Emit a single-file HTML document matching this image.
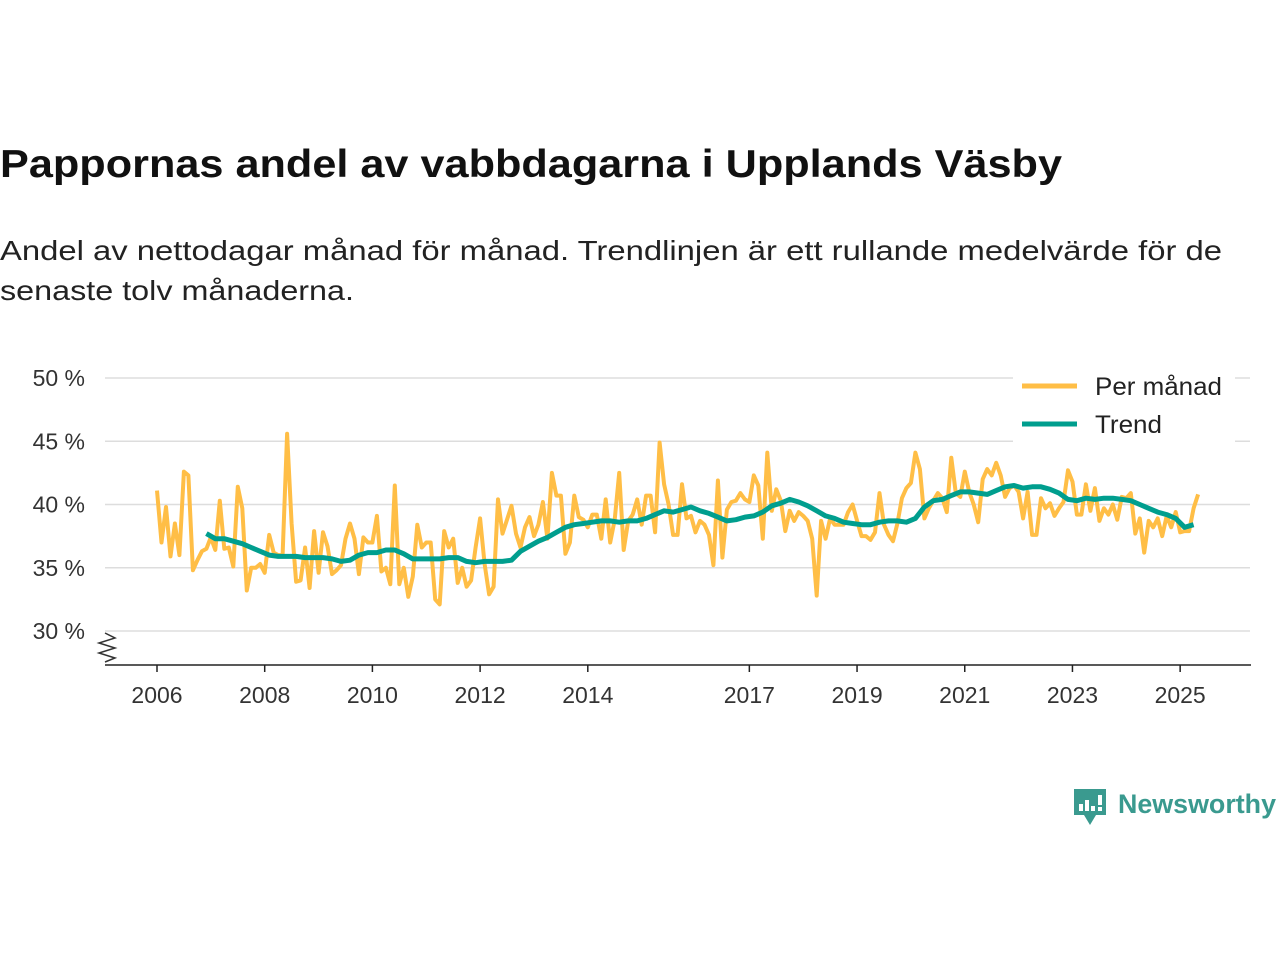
<!DOCTYPE html>
<html><head><meta charset="utf-8"><style>
body{margin:0;background:#fff;width:1280px;height:960px;overflow:hidden;font-family:"Liberation Sans",sans-serif;}
</style></head><body>
<svg width="1280" height="960" xmlns="http://www.w3.org/2000/svg">
<text x="0" y="177" font-size="39" font-weight="bold" fill="#111" textLength="1062" lengthAdjust="spacingAndGlyphs">Pappornas andel av vabbdagarna i Upplands Väsby</text>
<text x="0" y="260" font-size="28" fill="#222" textLength="1222" lengthAdjust="spacingAndGlyphs">Andel av nettodagar månad för månad. Trendlinjen är ett rullande medelvärde för de</text>
<text x="0" y="300" font-size="28" fill="#222" textLength="354" lengthAdjust="spacingAndGlyphs">senaste tolv månaderna.</text>
<g id="grid"></g><g id="xaxis"></g>
<path d="M105,633 L115,638 L99,643 L115,648 L99,653 L115,658 L105,662" fill="none" stroke="#333" stroke-width="1.5"/>
<g id="series"></g>
<g>
<rect x="1013" y="368" width="222" height="74" fill="#fff"/>
<line x1="1022" y1="386" x2="1077" y2="386" stroke="#FFBE46" stroke-width="5"/>
<text x="1095" y="395" font-size="25" fill="#222" textLength="127" lengthAdjust="spacingAndGlyphs">Per månad</text>
<line x1="1022" y1="424" x2="1077" y2="424" stroke="#009E8E" stroke-width="5"/>
<text x="1095" y="433" font-size="25" fill="#222" textLength="67" lengthAdjust="spacingAndGlyphs">Trend</text>
</g>
<g>
<path d="M1074,789 h32 v26 h-10 l-6,10 l-6,-10 h-10 z" fill="#3a9a8f"/>
<rect x="1079" y="804" width="4" height="7" fill="#fff"/><rect x="1085" y="800" width="4" height="11" fill="#fff"/><rect x="1091" y="806" width="4" height="5" fill="#fff"/><rect x="1098" y="795" width="4" height="10" fill="#fff"/><rect x="1098" y="807" width="4" height="4" fill="#fff"/>
<text x="1118" y="813" font-size="27" font-weight="bold" fill="#3a9a8f" textLength="158" lengthAdjust="spacingAndGlyphs">Newsworthy</text>
</g>
</svg>
<script>
const yTicks=[30,35,40,45,50];
const yTickLabels=["30 %","35 %","40 %","45 %","50 %"];
const xTicks=[2006,2008,2010,2012,2014,2017,2019,2021,2023,2025];
const startYear=2006;
const monthly=[41.1,37.0,39.8,35.9,38.5,36.0,42.6,42.3,34.8,35.6,36.3,36.5,37.4,36.4,40.3,36.5,36.6,35.1,41.4,39.7,33.2,35.0,35.0,35.3,34.6,37.6,36.2,36.0,36.0,45.6,38.5,33.9,34.0,36.6,33.4,37.9,34.6,37.8,36.7,34.5,34.8,35.2,37.3,38.5,37.3,34.5,37.4,37.0,37.0,39.1,34.7,35.0,33.7,41.5,
33.7,35.0,32.7,34.3,38.4,36.6,37.0,37.0,32.5,32.1,37.9,36.6,37.3,33.8,35.0,33.5,34.0,36.6,38.9,35.3,32.9,33.5,40.4,37.7,38.8,39.9,37.7,36.6,38.2,39.0,37.5,38.4,40.2,37.3,42.5,40.7,40.7,36.1,37.0,40.7,39.0,38.8,38.2,39.2,39.2,37.3,40.4,37.0,38.8,42.5,36.4,38.7,39.2,40.4,38.4,40.7,40.7,37.8,44.9,
41.6,40.0,37.6,37.6,41.6,38.9,39.1,37.8,38.7,38.4,37.6,35.2,41.9,35.8,39.6,40.2,40.3,40.9,40.4,40.2,42.3,41.5,37.3,44.1,39.5,41.2,40.3,37.9,39.5,38.7,39.4,39.1,38.7,37.3,32.8,38.7,37.3,38.9,38.4,38.4,38.4,39.4,40.0,38.7,37.5,37.5,37.2,37.8,40.9,38.4,37.6,37.1,38.5,40.5,41.3,41.7,44.1,
42.8,38.9,39.7,40.3,40.9,40.5,39.4,43.7,40.9,40.6,42.6,41.0,40.0,38.6,42.0,42.8,42.3,43.3,42.3,40.6,41.3,41.5,41.0,38.9,41.0,37.6,37.6,40.5,39.7,40.1,39.1,39.7,40.2,42.7,41.8,39.2,39.2,41.6,39.5,41.3,38.7,39.7,39.2,40.0,38.8,40.6,40.5,40.9,37.7,38.9,36.2,38.7,38.2,38.9,37.5,39.1,38.2,39.4,37.8,37.9,37.9,39.7,40.8];
const trendStartMonth=11, trendStepMonths=2;
const trend=[37.7,37.3,37.3,37.1,36.9,36.6,36.3,36.0,35.9,35.9,35.9,35.8,35.8,35.8,35.7,35.5,35.6,36.0,36.2,36.2,36.4,36.4,36.1,35.7,35.7,35.7,35.7,35.8,35.8,35.5,35.4,35.5,35.5,35.5,35.6,36.3,36.7,37.1,37.4,37.8,38.2,38.4,38.5,38.6,38.7,38.7,38.6,38.7,38.7,38.9,39.2,39.5,39.4,39.6,39.8,39.5,39.3,39.0,38.7,38.8,39.0,39.1,39.4,39.9,40.1,40.4,40.2,39.9,39.5,39.1,38.9,38.6,38.5,38.4,38.4,38.6,38.7,38.7,38.6,38.9,39.8,40.3,40.4,40.7,41.0,41.0,40.9,40.8,41.1,41.4,41.5,41.3,41.4,41.4,41.2,40.9,40.4,40.3,40.5,40.4,40.5,40.5,40.4,40.3,40.0,39.7,39.4,39.2,38.9,38.2,38.4];

const NS="http://www.w3.org/2000/svg";
const X=yr=>157+(yr-2006)*53.85;
const XM=m=>X(startYear+m/12);
const Y=v=>378+(50-v)*12.65;
function mk(tag,attrs,parent){const e=document.createElementNS(NS,tag);for(const k in attrs)e.setAttribute(k,attrs[k]);parent.appendChild(e);return e;}
const grid=document.getElementById('grid');
yTicks.forEach((t,i)=>{
 const l=mk('line',{x1:105,x2:1250,y1:Y(t),y2:Y(t),stroke:'#ddd','stroke-width':1.5},grid);
 
 
 const tx=mk('text',{x:85,y:Y(t)+8,'text-anchor':'end','font-size':23,fill:'#333'},grid);
 tx.textContent=yTickLabels[i];
 
 
});
const xa=document.getElementById('xaxis');
const al=mk('line',{x1:105,x2:1251,y1:665,y2:665,stroke:'#222','stroke-width':1.5},xa);


xTicks.forEach(t=>{
 const tk=mk('line',{x1:X(t),x2:X(t),y1:665,y2:672,stroke:'#222','stroke-width':1.5},xa);
 
 
 const tx=mk('text',{x:X(t),y:703,'text-anchor':'middle','font-size':23,fill:'#333'},xa);
 tx.textContent=t;
 
 
});
const s=document.getElementById('series');
const p1=mk('path',{d:monthly.map((v,i)=>(i?'L':'M')+XM(i).toFixed(1)+','+Y(v).toFixed(1)).join(''),fill:'none',stroke:'#FFBE46','stroke-width':4,'stroke-linejoin':'round'},s);


const p2=mk('path',{d:trend.map((v,i)=>(i?'L':'M')+XM(trendStartMonth+i*trendStepMonths).toFixed(1)+','+Y(v).toFixed(1)).join(''),fill:'none',stroke:'#009E8E','stroke-width':5,'stroke-linejoin':'round'},s);


</script>
</body></html>
